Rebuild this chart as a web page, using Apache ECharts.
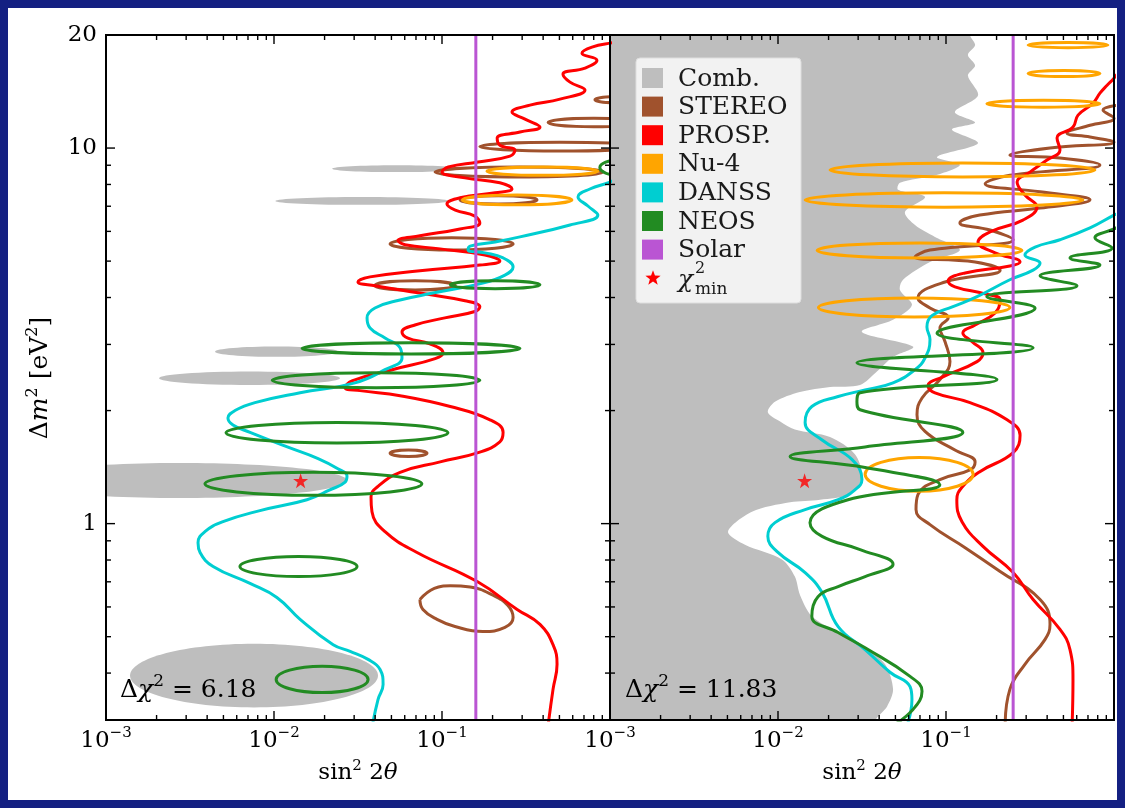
<!DOCTYPE html>
<html>
<head>
<meta charset="utf-8">
<title>Sterile neutrino fits</title>
<script src="https://cdn.jsdelivr.net/npm/echarts@6/dist/echarts.min.js"></script>
<style>
  html, body { margin: 0; padding: 0; background: #142082; }
  #frame { position: absolute; left: 0; top: 0; width: 1125px; height: 808px; background: #142082; }
  #chart { position: absolute; left: 8px; top: 8px; width: 1109px; height: 792px; background: #ffffff; }
</style>
</head>
<body>
<div id="frame"><div id="chart"></div></div>
<script>
// ---------------- axis ranges and ticks ----------------
const X_MIN = 0.001, X_MAX = 1, Y_MIN = 0.3, Y_MAX = 20;
const X_MAJOR = [0.001, 0.01, 0.1, 1];
const X_EXPONENTS = ['\u22123', '\u22122', '\u22121', ''];
const X_MINOR = [0.002, 0.003, 0.004, 0.005, 0.006, 0.007, 0.008, 0.009,
                 0.02, 0.03, 0.04, 0.05, 0.06, 0.07, 0.08, 0.09,
                 0.2, 0.3, 0.4, 0.5, 0.6, 0.7, 0.8, 0.9];
const Y_MAJOR = [1, 10];
const Y_MINOR = [0.4, 0.5, 0.6, 0.7, 0.8, 0.9, 2, 3, 4, 5, 6, 7, 8, 9];
const Y_LABEL_VALUES = [1, 10, 20];
const Y_LABELS = ['1', '10', '20'];

// ---------------- legend ----------------
const LEGEND_LABELS = ['Comb.', 'STEREO', 'PROSP.', 'Nu-4', 'DANSS', 'NEOS', 'Solar'];
const COLORS = {
  'Comb.': '#bebebe', 'STEREO': '#a0522d', 'PROSP.': '#ff0000', 'Nu-4': '#ffa500',
  'DANSS': '#00ced1', 'NEOS': '#228b22', 'Solar': '#ba55d3'
};

// ---------------- left panel (Δχ² = 6.18) ----------------
// islands as [sin²2θ left, sin²2θ right, Δm² low, Δm² high]
const LEFT_COMB = [
  [0.0222, 0.13, 8.63, 9.0], [0.0102, 0.11, 7.06, 7.41], [0.00446, 0.024, 2.78, 2.96],
  [0.00207, 0.0247, 2.34, 2.54], [0.00028, 0.0272, 1.17, 1.45], [0.00139, 0.0416, 0.324, 0.479]
];
const LEFT_NEOS = [
  [0.87, 1.5, 8.46, 9.3], [0.112, 0.383, 4.22, 4.43], [0.0147, 0.291, 2.83, 3.03],
  [0.00976, 0.168, 2.30, 2.52], [0.00518, 0.1085, 1.64, 1.86], [0.00388, 0.0759, 1.19, 1.37],
  [0.00627, 0.0312, 0.723, 0.817], [0.0103, 0.0363, 0.355, 0.417]
];
const LEFT_STEREO = [
  [0.814, 1.5, 13.2, 13.7], [0.428, 1.5, 11.4, 12.0], [0.168, 1.5, 9.82, 10.37],
  [0.091, 0.91, 8.38, 8.9], [0.128, 0.368, 7.1, 7.46], [0.0491, 0.265, 5.35, 5.77],
  [0.0398, 0.12, 4.19, 4.43], [0.0491, 0.0814, 1.51, 1.57]
];
const LEFT_STEREO_LOOP = [
  [0.0739, 0.628], [0.09, 0.672], [0.112, 0.683], [0.147, 0.678], [0.201, 0.645],
  [0.247, 0.605], [0.265, 0.562], [0.237, 0.529], [0.175, 0.516], [0.1195, 0.532],
  [0.0934, 0.556], [0.077, 0.591], [0.0739, 0.628]
];
const LEFT_NU4 = [[0.185, 0.847, 8.46, 8.9], [0.132, 0.594, 7.06, 7.5]];
const LEFT_DANSS = [
  [0.0385, 0.29], [0.0416, 0.34], [0.0446, 0.373], [0.0428, 0.409], [0.0363, 0.435], [0.0284, 0.457],
  [0.0225, 0.476], [0.0143, 0.556], [0.0104, 0.636], [0.0072, 0.693], [0.00434, 0.769], [0.00363, 0.838],
  [0.00353, 0.89], [0.00388, 0.952], [0.00497, 1.012], [0.00825, 1.083], [0.0157, 1.158], [0.0215, 1.23],
  [0.0265, 1.29], [0.0272, 1.34], [0.024, 1.40], [0.0183, 1.49], [0.012, 1.60], [0.0072, 1.75],
  [0.0057, 1.83], [0.00532, 1.91], [0.00586, 2.0], [0.0077, 2.10], [0.0143, 2.23], [0.0303, 2.37],
  [0.0458, 2.57], [0.0578, 2.76], [0.0563, 2.94], [0.0458, 3.12], [0.0373, 3.32], [0.0358, 3.53],
  [0.0399, 3.75], [0.0563, 3.94], [0.0884, 4.11], [0.175, 4.37], [0.237, 4.59], [0.265, 4.82],
  [0.231, 5.10], [0.18, 5.26], [0.143, 5.35], [0.147, 5.48], [0.207, 5.62], [0.291, 5.8],
  [0.578, 6.24], [0.847, 6.63], [0.739, 7.01], [0.645, 7.41], [0.759, 7.78], [1.0, 8.12], [1.3, 8.6]
];
const LEFT_PROSP = [
  [0.428, 0.29], [0.458, 0.362], [0.484, 0.422], [0.458, 0.476], [0.383, 0.539], [0.28, 0.591],
  [0.162, 0.701], [0.071, 0.838], [0.0458, 0.952], [0.0383, 1.076], [0.0378, 1.18], [0.041, 1.25],
  [0.0563, 1.37], [0.0975, 1.46], [0.168, 1.55], [0.221, 1.65], [0.231, 1.75], [0.193, 1.89],
  [0.112, 2.05], [0.0563, 2.19], [0.0325, 2.26], [0.0265, 2.30], [0.0291, 2.40], [0.0525, 2.58],
  [0.091, 2.75], [0.1014, 2.85], [0.0847, 3.01], [0.0627, 3.12], [0.0578, 3.24], [0.069, 3.38],
  [0.104, 3.53], [0.157, 3.67], [0.168, 3.78], [0.137, 3.92], [0.0739, 4.11], [0.0399, 4.30],
  [0.0316, 4.40], [0.0373, 4.54], [0.0739, 4.71], [0.168, 4.88], [0.221, 5.0], [0.18, 5.19],
  [0.0975, 5.39], [0.0602, 5.53], [0.0547, 5.67], [0.0739, 5.84], [0.128, 6.09], [0.168, 6.32],
  [0.157, 6.59], [0.12, 6.84], [0.107, 7.1], [0.128, 7.37], [0.207, 7.6], [0.261, 7.78],
  [0.221, 8.08], [0.137, 8.33], [0.1, 8.63], [0.109, 8.9], [0.164, 9.18], [0.254, 9.52],
  [0.272, 9.88], [0.221, 10.18], [0.213, 10.63], [0.291, 11.03], [0.383, 11.37], [0.312, 11.94],
  [0.261, 12.47], [0.334, 13.01], [0.504, 13.5], [0.71, 14.27], [0.578, 14.98], [0.525, 15.73],
  [0.71, 16.33], [0.836, 17.14], [0.681, 17.89], [0.781, 18.57], [1.07, 19.14], [1.3, 19.6]
];

// ---------------- right panel (Δχ² = 11.83) ----------------
// right-hand edge of the combined allowed region, from the top of the plot downwards
const RIGHT_COMB_EDGE = [
  [0.139, 20], [0.149, 18.8], [0.135, 17.7], [0.149, 16.6], [0.135, 15.6], [0.155, 13.8],
  [0.113, 12.47], [0.149, 11.7], [0.1085, 11.2], [0.155, 10.3], [0.0884, 9.47], [0.121, 9.02],
  [0.086, 8.46], [0.0532, 8.08], [0.0518, 7.74], [0.075, 7.41], [0.057, 6.76], [0.0654, 6.24],
  [0.086, 5.8], [0.121, 5.35], [0.0803, 4.97], [0.0555, 4.46], [0.0532, 4.19], [0.0627, 3.82],
  [0.0484, 3.49], [0.0316, 3.24], [0.0636, 2.96], [0.0484, 2.78], [0.0388, 2.54], [0.0308, 2.34],
  [0.0204, 2.31], [0.0135, 2.24], [0.00959, 2.11], [0.0087, 1.98], [0.0103, 1.87], [0.0126, 1.78],
  [0.0204, 1.70], [0.0287, 1.53], [0.0316, 1.33], [0.0268, 1.20], [0.0178, 1.158], [0.0118, 1.14],
  [0.007, 1.076], [0.00504, 0.952], [0.00636, 0.878], [0.01056, 0.803], [0.0126, 0.723],
  [0.0135, 0.647], [0.0159, 0.567], [0.0228, 0.513], [0.033, 0.467], [0.0434, 0.422],
  [0.0484, 0.362], [0.0446, 0.326], [0.0378, 0.297]
];
const RIGHT_NU4 = [
  [0.308, 0.92, 18.5, 19.1], [0.308, 0.825, 15.5, 16.1], [0.175, 0.825, 12.85, 13.4],
  [0.0204, 0.77, 8.38, 9.13], [0.0145, 0.654, 6.96, 7.6], [0.0171, 0.283, 5.10, 5.59],
  [0.0174, 0.24, 3.55, 3.99], [0.033, 0.145, 1.22, 1.50]
];
const RIGHT_STEREO = [
  [0.225, 0.29], [0.24, 0.362], [0.295, 0.422], [0.388, 0.491], [0.416, 0.539], [0.363, 0.628],
  [0.21, 0.746], [0.13, 0.863], [0.0803, 0.994], [0.0663, 1.09], [0.0681, 1.195], [0.092, 1.31],
  [0.139, 1.39], [0.149, 1.46], [0.113, 1.57], [0.075, 1.76], [0.0672, 1.95], [0.072, 2.16],
  [0.092, 2.42], [0.1056, 2.70], [0.0987, 3.05], [0.092, 3.32], [0.103, 3.53], [0.0803, 3.75],
  [0.0681, 3.99], [0.0987, 4.40], [0.21, 4.73], [0.149, 4.97], [0.0654, 5.13], [0.0803, 5.35],
  [0.251, 5.70], [0.183, 6.05], [0.121, 6.32], [0.159, 6.63], [0.363, 6.92], [0.72, 7.28],
  [0.363, 7.65], [0.171, 8.03], [0.24, 8.46], [0.825, 9.02], [0.477, 9.41], [0.24, 9.58],
  [0.416, 10.0], [1.0, 10.37], [0.72, 10.7], [0.525, 10.96], [0.72, 11.5], [1.0, 12.0],
  [0.86, 12.62], [1.085, 13.01]
];
const RIGHT_PROSP = [
  [0.563, 0.29], [0.57, 0.384], [0.547, 0.462], [0.477, 0.523], [0.33, 0.628], [0.251, 0.741],
  [0.166, 0.87], [0.1245, 1.012], [0.116, 1.158], [0.1245, 1.25], [0.159, 1.375], [0.251, 1.545],
  [0.276, 1.72], [0.231, 1.89], [0.139, 2.10], [0.086, 2.23], [0.0781, 2.33], [0.0959, 2.46],
  [0.153, 2.70], [0.166, 2.85], [0.143, 3.05], [0.126, 3.22], [0.149, 3.38], [0.196, 3.64],
  [0.21, 3.94], [0.171, 4.09], [0.113, 4.27], [0.103, 4.43], [0.13, 4.65], [0.24, 4.85],
  [0.276, 4.97], [0.196, 5.26], [0.155, 5.62], [0.183, 5.98], [0.287, 6.43], [0.348, 6.97],
  [0.295, 7.5], [0.265, 8.12], [0.316, 8.63], [0.399, 9.29], [0.477, 9.88], [0.458, 10.63],
  [0.57, 11.37], [0.611, 12.24], [0.75, 13.17], [0.825, 14.0], [0.91, 14.7], [1.0, 15.35], [1.085, 16.1]
];
const RIGHT_DANSS = [
  [0.0586, 0.29], [0.0627, 0.34], [0.0611, 0.368], [0.0464, 0.402], [0.033, 0.462], [0.0228, 0.532],
  [0.0183, 0.656], [0.0145, 0.741], [0.01, 0.838], [0.0087, 0.925], [0.00959, 1.006], [0.0145, 1.09],
  [0.0228, 1.158], [0.0287, 1.23], [0.0316, 1.31], [0.0276, 1.48], [0.0183, 1.67], [0.0145, 1.86],
  [0.0159, 2.05], [0.0228, 2.18], [0.033, 2.27], [0.0484, 2.37], [0.0654, 2.57], [0.075, 2.76],
  [0.0803, 3.09], [0.077, 3.34], [0.0825, 3.58], [0.11, 3.78], [0.153, 4.02], [0.24, 4.46],
  [0.33, 4.73], [0.363, 4.94], [0.295, 5.19], [0.339, 5.45], [0.477, 5.70], [0.72, 6.13],
  [1.0, 6.63], [1.16, 6.84]
];
const RIGHT_NEOS = [
  [1.085, 6.2], [1.0, 6.09], [0.77, 5.77], [0.975, 5.42], [0.547, 5.10], [0.825, 4.88],
  [0.363, 4.57], [0.602, 4.30], [0.175, 4.02], [0.339, 3.75], [0.0884, 3.22], [0.33, 2.94],
  [0.0295, 2.68], [0.201, 2.42], [0.0308, 2.23], [0.0295, 2.11], [0.0308, 2.01], [0.126, 1.75],
  [0.033, 1.60], [0.0118, 1.51], [0.033, 1.41], [0.092, 1.27], [0.0261, 1.158], [0.0155, 1.006],
  [0.0183, 0.925], [0.0308, 0.853], [0.0484, 0.78], [0.033, 0.723], [0.0228, 0.68], [0.0173, 0.639],
  [0.0159, 0.567], [0.0228, 0.513], [0.033, 0.467], [0.0611, 0.392], [0.072, 0.358], [0.0636, 0.32],
  [0.0484, 0.29]
];

// solar bound on sin²2θ for each Δχ² level, and the best-fit point
const SOLAR_BOUND = [0.159, 0.251];
const BEST_FIT = [0.0144, 1.3];
const DELTA_CHI2 = ['6.18', '11.83'];

// ---------------- styling helpers ----------------
const SERIF = 'DejaVu Serif';
const LINE_W = 3;
const STAR_PATH = 'path://M50,0 L61.8,35.1 L98.9,35.1 L68.9,56.9 L80.2,91.9 L50,70.3 L19.8,91.9 L31.1,56.9 L1.1,35.1 L38.2,35.1 Z';
const TICK_RICH = {
  b: { fontFamily: SERIF, fontSize: 23, fill: '#000', color: '#000' },
  e: { fontFamily: SERIF, fontSize: 15, fill: '#000', color: '#000', padding: [0, 0, 15, 0] }
};

function tickData() {
  const d = [];
  X_MAJOR.forEach((v, i) => d.push([v, Y_MIN, 0, 1, i]));
  X_MINOR.forEach(v => d.push([v, Y_MIN, 0, 0, -1]));
  Y_MAJOR.forEach(v => d.push([X_MIN, v, 1, 1, -1]));
  Y_MINOR.forEach(v => d.push([X_MIN, v, 1, 0, -1]));
  Y_LABEL_VALUES.forEach((v, i) => d.push([X_MIN, v, 3, 0, i]));
  d.push([X_MIN, Y_MIN, 2, 0, -1]);
  return d;
}

function tickRenderer(showYLabels) {
  return function (params, api) {
    const kind = api.value(2), major = api.value(3), idx = api.value(4);
    const len = major ? 9 : 5;
    const st = { stroke: '#000', lineWidth: 1.4 };
    if (kind === 0) {
      const v = api.value(0);
      const b = api.coord([v, Y_MIN]), t = api.coord([v, Y_MAX]);
      const ch = [
        { type: 'line', shape: { x1: b[0], y1: b[1], x2: b[0], y2: b[1] - len }, style: st },
        { type: 'line', shape: { x1: t[0], y1: t[1], x2: t[0], y2: t[1] + len }, style: st }
      ];
      if (major && X_EXPONENTS[idx]) {
        ch.push({ type: 'text', x: b[0], y: b[1] + 6,
          style: { text: '{b|10}{e|' + X_EXPONENTS[idx] + '}', rich: TICK_RICH,
                   align: 'center', verticalAlign: 'top', fill: '#000' } });
      }
      return { type: 'group', children: ch };
    }
    if (kind === 1) {
      const v = api.value(1);
      const l = api.coord([X_MIN, v]), r = api.coord([X_MAX, v]);
      return { type: 'group', children: [
        { type: 'line', shape: { x1: l[0], y1: l[1], x2: l[0] + len, y2: l[1] }, style: st },
        { type: 'line', shape: { x1: r[0], y1: r[1], x2: r[0] - len, y2: r[1] }, style: st }
      ] };
    }
    if (kind === 3) {
      if (!showYLabels) return null;
      const p = api.coord([X_MIN, api.value(1)]);
      return { type: 'text', x: p[0] - 9, y: p[1],
        style: { text: Y_LABELS[idx], fontFamily: SERIF, fontSize: 23, fill: '#000',
                 align: 'right', verticalAlign: 'middle' } };
    }
    const a = api.coord([X_MIN, Y_MAX]), b = api.coord([X_MAX, Y_MIN]);
    return { type: 'rect', shape: { x: a[0], y: a[1], width: b[0] - a[0], height: b[1] - a[1] },
             style: { fill: 'none', stroke: '#000', lineWidth: 2 } };
  };
}

function islands(name, data, grid, filled, z) {
  const color = COLORS[name];
  return {
    type: 'custom', name: name, xAxisIndex: grid, yAxisIndex: grid, clip: true, z: z, silent: true,
    encode: { x: [0, 1], y: [2, 3] },
    data: data,
    renderItem: function (params, api) {
      const a = api.coord([api.value(0), api.value(2)]);
      const b = api.coord([api.value(1), api.value(3)]);
      return {
        type: 'ellipse',
        shape: { cx: (a[0] + b[0]) / 2, cy: (a[1] + b[1]) / 2,
                 rx: Math.abs(b[0] - a[0]) / 2, ry: Math.abs(b[1] - a[1]) / 2 },
        style: filled ? { fill: color, stroke: null }
                      : { fill: 'none', stroke: color, lineWidth: LINE_W }
      };
    }
  };
}

function curve(name, data, grid, z) {
  const color = COLORS[name];
  return {
    type: 'line', name: name, xAxisIndex: grid, yAxisIndex: grid, data: data,
    smooth: 0.45, symbol: 'none', z: z, silent: true,
    lineStyle: { color: color, width: LINE_W }, itemStyle: { color: color }
  };
}

function solarLine(bound, grid) {
  return curve('Solar', [[bound, Y_MIN], [bound, Y_MAX]], grid, 8);
}

function bestFit(grid) {
  return {
    type: 'scatter', name: '\u03c7\u00b2 min', xAxisIndex: grid, yAxisIndex: grid,
    data: [BEST_FIT], symbol: STAR_PATH, symbolSize: 15, z: 9, silent: true,
    itemStyle: { color: '#ff0000' }
  };
}

function ticks(grid, showYLabels) {
  return {
    type: 'custom', name: 'axes', xAxisIndex: grid, yAxisIndex: grid, z: 20, silent: true,
    encode: { x: 0, y: 1 }, data: tickData(), renderItem: tickRenderer(showYLabels)
  };
}

const combRegion = {
  type: 'custom', name: 'Comb.', xAxisIndex: 1, yAxisIndex: 1, clip: true, z: 1, silent: true,
  encode: { x: 0, y: 1 }, data: [[X_MIN, Y_MIN]],
  renderItem: function (params, api) {
    const first = RIGHT_COMB_EDGE[0], last = RIGHT_COMB_EDGE[RIGHT_COMB_EDGE.length - 1];
    const ring = [[X_MIN / 2, Y_MAX * 1.3], [first[0], Y_MAX * 1.3]]
      .concat(RIGHT_COMB_EDGE)
      .concat([[last[0], Y_MIN * 0.8], [X_MIN / 2, Y_MIN * 0.8]]);
    return {
      type: 'polygon',
      shape: { points: ring.map(p => api.coord(p)), smooth: 0.3 },
      style: { fill: COLORS['Comb.'], stroke: null }
    };
  }
};

function axisPair(grid) {
  return {
    x: { type: 'log', logBase: 10, gridIndex: grid, min: X_MIN, max: X_MAX, show: false },
    y: { type: 'log', logBase: 10, gridIndex: grid, min: Y_MIN, max: Y_MAX, show: false }
  };
}
const axL = axisPair(0), axR = axisPair(1);

// ---------------- text decorations ----------------
const MATH_RICH = {
  r: { fontFamily: SERIF, fontSize: 23, fill: '#000' },
  i: { fontFamily: SERIF, fontSize: 23, fontStyle: 'italic', fill: '#000' },
  s: { fontFamily: SERIF, fontSize: 15, fill: '#000', padding: [0, 0, 14, 0] }
};
const YTITLE_RICH = {
  r: { fontFamily: SERIF, fontSize: 25, fill: '#000' },
  i: { fontFamily: SERIF, fontSize: 25, fontStyle: 'italic', fill: '#000' },
  s: { fontFamily: SERIF, fontSize: 16, fill: '#000', padding: [0, 0, 15, 0] }
};
const NOTE_RICH = {
  r: { fontFamily: SERIF, fontSize: 25, fill: '#000' },
  i: { fontFamily: SERIF, fontSize: 25, fontStyle: 'italic', fill: '#000' },
  s: { fontFamily: SERIF, fontSize: 17, fill: '#000', padding: [0, 0, 16, 0] }
};

const graphics = [];
// axis titles
[350, 854].forEach(cx => graphics.push({
  type: 'text', x: cx, y: 765, z: 50,
  style: { text: '{r|sin}{s|2}{r| 2}{i|\u03b8}', rich: MATH_RICH, align: 'center', verticalAlign: 'middle' }
}));
graphics.push({
  type: 'text', x: 32, y: 370, rotation: Math.PI / 2, z: 50,
  style: { text: '{r|\u0394}{i|m}{s|2}{r| [eV}{s|2}{r|]}', rich: YTITLE_RICH, align: 'center', verticalAlign: 'middle' }
});
// Δχ² levels
[[112, 0], [617, 1]].forEach(([x, k]) => graphics.push({
  type: 'text', x: x, y: 682, z: 50,
  style: { text: '{r|\u0394}{i|\u03c7}{s|2}{r| = ' + DELTA_CHI2[k] + '}', rich: NOTE_RICH,
           align: 'left', verticalAlign: 'middle' }
}));
// legend box
const LEG_X = 628, LEG_Y = 50, ROW0 = 70, ROW_STEP = 28.6;
graphics.push({ type: 'rect', z: 60, shape: { x: LEG_X, y: LEG_Y, width: 165, height: 245, r: 4 },
  style: { fill: '#f2f2f2', stroke: '#dedede', lineWidth: 1 } });
LEGEND_LABELS.forEach((lab, k) => {
  const cy = ROW0 + k * ROW_STEP;
  graphics.push({ type: 'rect', z: 61, shape: { x: 634, y: cy - 10, width: 21, height: 20 },
    style: { fill: COLORS[lab] } });
  graphics.push({ type: 'text', z: 61, x: 670, y: cy + 1,
    style: { text: lab, fontFamily: SERIF, fontSize: 25, fill: '#1a1a1a', align: 'left', verticalAlign: 'middle' } });
});
const starY = ROW0 + 7 * ROW_STEP;
(function () {
  const pts = [];
  for (let k = 0; k < 10; k++) {
    const rad = k % 2 === 0 ? 8 : 3.3;
    const ang = -Math.PI / 2 + k * Math.PI / 5;
    pts.push([645 + rad * Math.cos(ang), starY + rad * Math.sin(ang)]);
  }
  graphics.push({ type: 'polygon', z: 61, shape: { points: pts }, style: { fill: '#ff0000' } });
})();
graphics.push({ type: 'text', z: 61, x: 670, y: starY + 2,
  style: { text: '\u03c7', fontFamily: SERIF, fontStyle: 'italic', fontSize: 25, fill: '#1a1a1a', align: 'left', verticalAlign: 'middle' } });
graphics.push({ type: 'text', z: 61, x: 687, y: starY - 9,
  style: { text: '2', fontFamily: SERIF, fontSize: 16, fill: '#1a1a1a', align: 'left', verticalAlign: 'middle' } });
graphics.push({ type: 'text', z: 61, x: 687, y: starY + 11,
  style: { text: 'min', fontFamily: SERIF, fontSize: 17, fill: '#1a1a1a', align: 'left', verticalAlign: 'middle' } });

// ---------------- chart ----------------
const chart = echarts.init(document.getElementById('chart'), null, { renderer: 'canvas' });
chart.setOption({
  animation: false,
  backgroundColor: 'transparent',
  grid: [
    { left: 98, top: 27, width: 504, height: 685, show: false },
    { left: 602, top: 27, width: 504, height: 685, show: false }
  ],
  xAxis: [axL.x, axR.x],
  yAxis: [axL.y, axR.y],
  graphic: { elements: graphics },
  series: [
    // left panel
    islands('Comb.', LEFT_COMB, 0, true, 1),
    islands('STEREO', LEFT_STEREO, 0, false, 3),
    curve('STEREO', LEFT_STEREO_LOOP, 0, 3),
    curve('PROSP.', LEFT_PROSP, 0, 4),
    islands('Nu-4', LEFT_NU4, 0, false, 5),
    curve('DANSS', LEFT_DANSS, 0, 6),
    islands('NEOS', LEFT_NEOS, 0, false, 7),
    solarLine(SOLAR_BOUND[0], 0),
    bestFit(0),
    ticks(0, true),
    // right panel
    combRegion,
    curve('STEREO', RIGHT_STEREO, 1, 3),
    curve('PROSP.', RIGHT_PROSP, 1, 4),
    islands('Nu-4', RIGHT_NU4, 1, false, 5),
    curve('DANSS', RIGHT_DANSS, 1, 6),
    curve('NEOS', RIGHT_NEOS, 1, 7),
    solarLine(SOLAR_BOUND[1], 1),
    bestFit(1),
    ticks(1, false)
  ]
});
</script>
</body>
</html>
